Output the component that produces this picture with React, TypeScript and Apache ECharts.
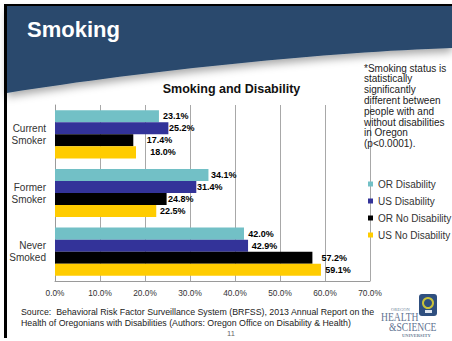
import React, { useEffect, useRef } from "react";
import * as echarts from "echarts";

const categories = ["Current\nSmoker", "Former\nSmoker", "Never\nSmoked"];
const seriesNames = ["OR Disability", "US Disability", "OR No Disability", "US No Disability"];
const orDisability = [23.1, 34.1, 42.0];
const usDisability = [25.2, 31.4, 42.9];
const orNoDisability = [17.4, 24.8, 57.2];
const usNoDisability = [18.0, 22.5, 59.1];
const xMin = 0;
const xMax = 70;
const xStep = 10;

const noteLines = [
  "*Smoking status is",
  "statistically",
  "significantly",
  "different between",
  "people with and",
  "without disabilities",
  "in Oregon",
  "(p<0.0001).",
];
const sourceLines = [
  "Source:  Behavioral Risk Factor Surveillance System (BRFSS), 2013 Annual Report on the",
  "Health of Oregonians with Disabilities (Authors: Oregon Office on Disability & Health)",
];

let registered = false;
function registerShapes() {
  if (registered) return;
  registered = true;
  echarts.graphic.registerShape(
    "headerWave",
    echarts.graphic.extendPath("M7 6 L452 6 L452 48 C330 52 150 70 7 93 Z", {}) as any
  );
}

export default function App() {
  const ref = useRef<HTMLDivElement>(null);
  useEffect(() => {
    if (!ref.current) return;
    registerShapes();
    const chart = echarts.init(ref.current, undefined, { renderer: "svg" });
    const colors = ["#72c0c6", "#333399", "#000000", "#ffcc00"];
    const values = [orDisability, usDisability, orNoDisability, usNoDisability];
    const shifts = [
      [1, -0.5, 1.3],
      [-2.3, -2.3, 0.7],
      [10.4, -1.6, 6],
      [11.3, 0.8, 1.3],
    ];
    const font = "Arial, 'Liberation Sans', sans-serif";
    const serif = "'Liberation Serif', 'DejaVu Serif', serif";

    const graphics: any[] = [
      {
        type: "headerWave",
        x: 0,
        y: 0,
        z: 1,
        style: {
          fill: "#2b4a6d",
          shadowBlur: 8,
          shadowColor: "rgba(0,0,0,0.35)",
          shadowOffsetY: 4,
        },
      },
      { type: "rect", shape: { x: 4, y: 4, width: 448, height: 2 }, style: { fill: "#000" }, z: 2 },
      { type: "rect", shape: { x: 4, y: 4, width: 3, height: 334 }, style: { fill: "#000" }, z: 2 },
      {
        type: "text",
        x: 27,
        y: 29.5,
        z: 3,
        style: {
          text: "Smoking",
          fill: "#ffffff",
          font: `bold 22px ${font}`,
          textAlign: "left",
          textVerticalAlign: "middle",
        },
      },
      {
        type: "text",
        x: 231.5,
        y: 89,
        z: 3,
        style: {
          text: "Smoking and Disability",
          fill: "#111",
          font: `bold 12.5px ${font}`,
          textAlign: "center",
          textVerticalAlign: "middle",
        },
      },
      ...noteLines.map((t, i) => ({
        type: "text",
        x: 364,
        y: 68 + i * 10.8,
        z: 3,
        style: {
          text: t,
          fill: "#222",
          font: `10px ${font}`,
          textAlign: "left",
          textVerticalAlign: "middle",
        },
      })),
      ...sourceLines.map((t, i) => ({
        type: "text",
        x: 21,
        y: 312 + i * 11,
        z: 3,
        style: {
          text: t,
          fill: "#222",
          font: `8.8px ${font}`,
          textAlign: "left",
          textVerticalAlign: "middle",
        },
      })),
      {
        type: "text",
        x: 231,
        y: 333,
        z: 3,
        style: { text: "11", fill: "#666", font: `7.5px ${font}`, textAlign: "center", textVerticalAlign: "middle" },
      },
      // logo
      {
        type: "rect",
        shape: { x: 419, y: 294, width: 18, height: 22, r: 3 },
        style: { fill: "#2f4f7f" },
        z: 3,
      },
      {
        type: "circle",
        shape: { cx: 428, cy: 303, r: 5 },
        style: { fill: "none", stroke: "#c9c23a", lineWidth: 2 },
        z: 4,
      },
      {
        type: "rect",
        shape: { x: 425, y: 310, width: 7, height: 3 },
        style: { fill: "#dfe6f0" },
        z: 4,
      },
      {
        type: "text",
        x: 391,
        y: 309,
        z: 3,
        style: { text: "OREGON", fill: "#6d7f99", font: `4.5px ${serif}`, textVerticalAlign: "middle" },
      },
      {
        type: "text",
        x: 381,
        y: 317,
        scaleX: 0.8,
        z: 3,
        style: { text: "HEALTH", fill: "#5f7391", font: `12px ${serif}`, textVerticalAlign: "middle" },
      },
      {
        type: "text",
        x: 389,
        y: 327,
        scaleX: 0.8,
        z: 3,
        style: { text: "&SCIENCE", fill: "#5f7391", font: `12px ${serif}`, textVerticalAlign: "middle" },
      },
      {
        type: "text",
        x: 402,
        y: 335,
        z: 3,
        style: { text: "UNIVERSITY", fill: "#6d7f99", font: `bold 4.6px ${serif}`, textVerticalAlign: "middle" },
      },
    ];

    chart.setOption({
      animation: false,
      backgroundColor: "#ffffff",
      color: colors,
      textStyle: { fontFamily: font },
      grid: { left: 55, right: 82, top: 105, bottom: 60, containLabel: false },
      legend: {
        orient: "vertical",
        left: 368,
        top: 178,
        padding: 0,
        itemWidth: 5,
        itemHeight: 5,
        itemGap: 5,
        icon: "rect",
        data: seriesNames,
        textStyle: { fontSize: 10, color: "#333", lineHeight: 12, fontFamily: font },
      },
      xAxis: {
        type: "value",
        min: xMin,
        max: xMax,
        interval: xStep,
        axisLine: { show: true, lineStyle: { color: "#9a9a9a", width: 1 } },
        axisTick: { show: false },
        splitLine: { show: true, lineStyle: { color: "#a8a8a8", width: 1 } },
        axisLabel: {
          fontSize: 8.3,
          color: "#333",
          margin: 8,
          formatter: (v: number) => v.toFixed(1) + "%",
        },
      },
      yAxis: {
        type: "category",
        inverse: true,
        data: categories,
        axisLine: { show: true, lineStyle: { color: "#9a9a9a", width: 1 } },
        axisTick: { show: false },
        axisLabel: { fontSize: 10, color: "#333", lineHeight: 12, margin: 9, align: "right" },
      },
      series: seriesNames.map((name, si) => ({
        name,
        type: "bar",
        barGap: "0%",
        barCategoryGap: "18%",
        data: values[si].map((v, i) => ({ value: v, label: { offset: [shifts[si][i], 0] } })),
        label: {
          show: true,
          position: "right",
          distance: 3,
          fontSize: 9,
          fontWeight: "bold",
          color: "#000",
          formatter: (p: any) => Number(p.value).toFixed(1) + "%",
        },
      })),
      graphic: { elements: graphics },
    });
    return () => chart.dispose();
  }, []);
  return (
    <div
      ref={ref}
      style={{ position: "fixed", left: 0, top: 0, width: 452, height: 341 }}
    />
  );
}
